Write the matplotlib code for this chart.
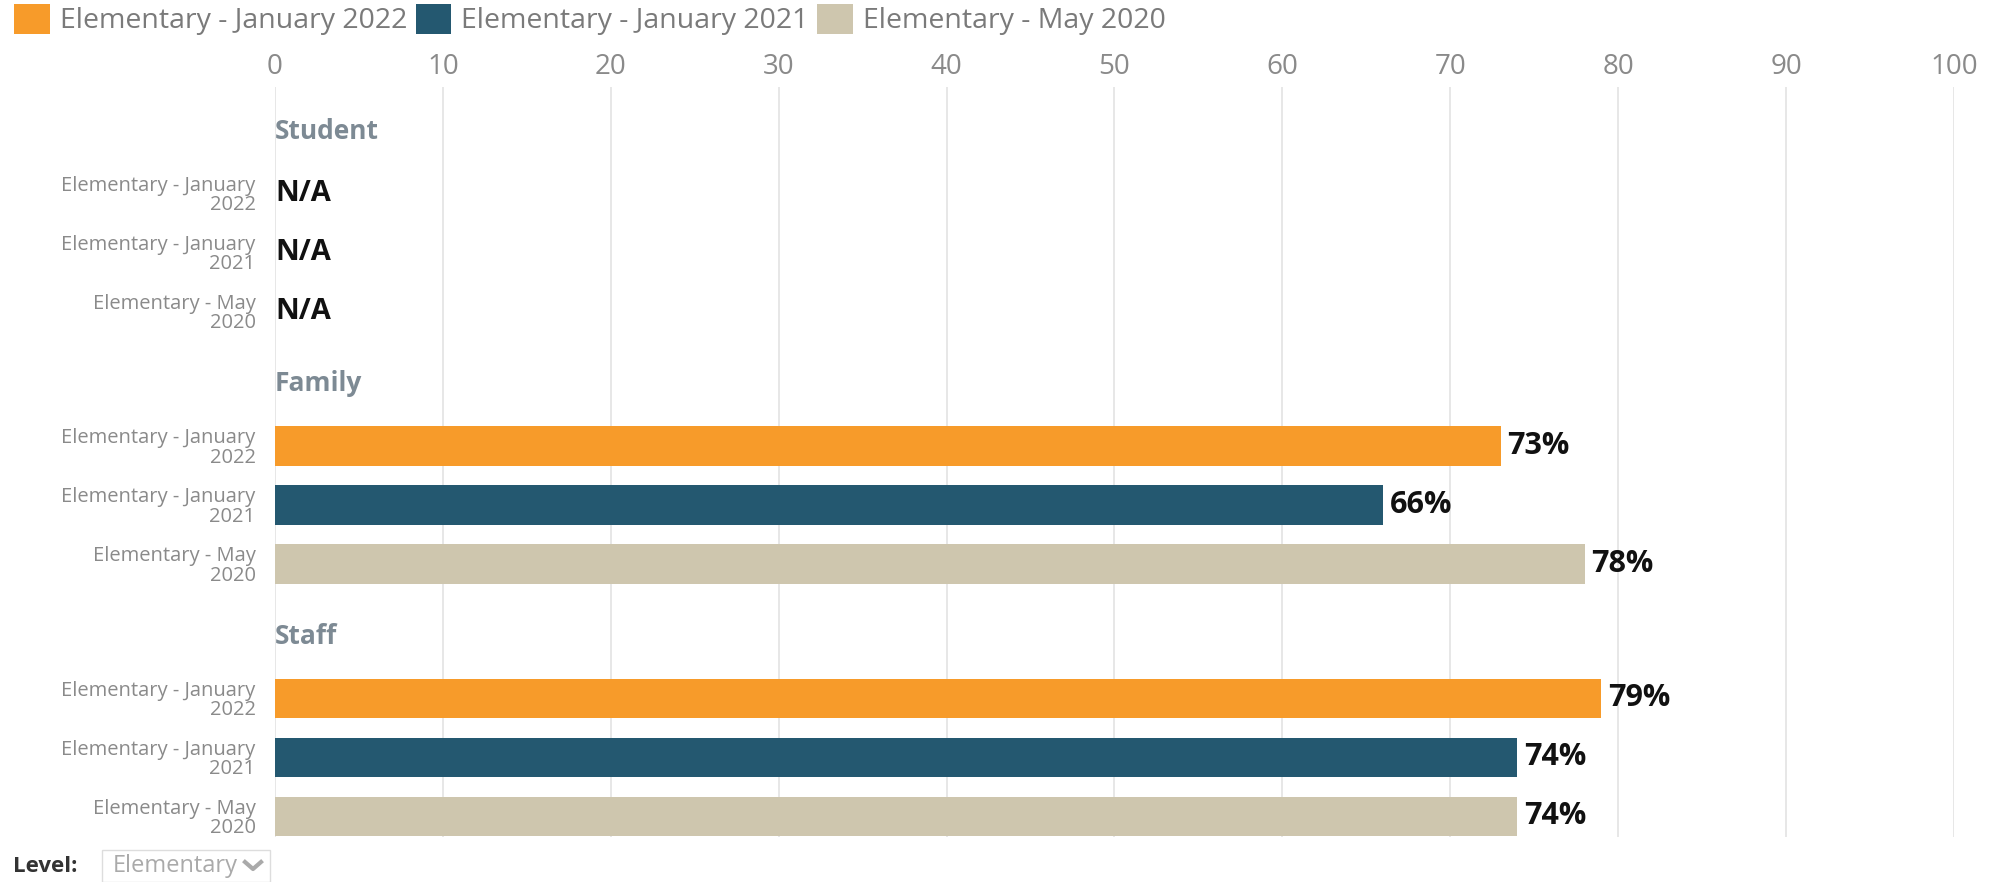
import numpy as np
import matplotlib.pyplot as plt
from matplotlib.patches import Patch, Rectangle
from matplotlib.lines import Line2D

plt.rcParams['font.family'] = ['Open Sans', 'DejaVu Sans']

# Datos
groups = ['Student', 'Family', 'Staff']
series = ['Elementary - January 2022', 'Elementary - January 2021', 'Elementary - May 2020']
row_labels = ['Elementary - January\n2022', 'Elementary - January\n2021', 'Elementary - May\n2020']
colors = ['#F79B2A', '#245870', '#CEC6AE']
student = [None, None, None]
family = [73, 66, 78]
staff = [79, 74, 74]
values = [student, family, staff]
xticks = [0, 10, 20, 30, 40, 50, 60, 70, 80, 90, 100]

fig = plt.figure(figsize=(20.03, 8.82), dpi=100)
ax = fig.add_axes([0.1373, 0.051, 0.8382, 0.8504])

group_step = 4.28
bar_h = 0.67
yticks, ylabels = [], []
for g, name in enumerate(groups):
    base = g * group_step
    ax.text(0, base - 1.05, name, fontsize=19, fontweight='bold',
            color='#7d8a94', va='center', ha='left')
    for r in range(3):
        y = base + r
        yticks.append(y)
        ylabels.append(row_labels[r])
        v = values[g][r]
        if v is None:
            ax.text(0.0, y, 'N/A', fontsize=21, fontweight='bold', va='center', ha='left', color='#111111')
        else:
            ax.barh(y, v, height=bar_h, color=colors[r], zorder=3)
            ax.text(v + 0.4, y, f'{v}%', fontsize=22, fontweight='bold', va='center', ha='left', color='#111111')

ax.set_xlim(0, 100)
ax.set_ylim(2 * group_step + 2 + 0.35, -1.80)
ax.set_xticks(xticks)
ax.xaxis.tick_top()
ax.tick_params(axis='x', length=0, labelsize=20, labelcolor='#8a8a8a', pad=4)
ax.set_yticks(yticks)
ax.set_yticklabels(ylabels, fontsize=14.5, color='#8a8a8a', linespacing=0.95)
ax.tick_params(axis='y', length=0, pad=14)
for t in ax.get_yticklabels():
    t.set_horizontalalignment('right')
    t.set_multialignment('right')
ax.grid(axis='x', color='#e3e3e3', linewidth=1.2, zorder=0)
for s in ax.spines.values():
    s.set_visible(False)

handles = [Patch(facecolor=c, edgecolor='none') for c in colors]
fig.legend(handles, series, loc='upper left', bbox_to_anchor=(0.0, 1.012), ncol=3, frameon=False,
           fontsize=20.5, labelcolor='#7a7a7a', handlelength=1.25, handleheight=1.25,
           handletextpad=0.35, columnspacing=0.3, borderaxespad=0.1)

# Selector de nivel
fig.text(13 / 2003, 1 - 866 / 882, 'Level:', fontsize=16, fontweight='bold', color='#333333', va='center')
fig.patches.append(Rectangle((102 / 2003, 1 - 882 / 882), 168 / 2003, 32 / 882, transform=fig.transFigure,
                             facecolor='white', edgecolor='#dddddd', linewidth=1))
fig.text(113 / 2003, 1 - 866 / 882, 'Elementary', fontsize=17, color='#aaaaaa', va='center')
fig.lines.append(Line2D([245 / 2003, 253 / 2003, 261 / 2003], [1 - 862 / 882, 1 - 869 / 882, 1 - 862 / 882],
                        transform=fig.transFigure, color='#aaaaaa', linewidth=3))

fig.savefig('out.png', dpi=100, facecolor='white')
